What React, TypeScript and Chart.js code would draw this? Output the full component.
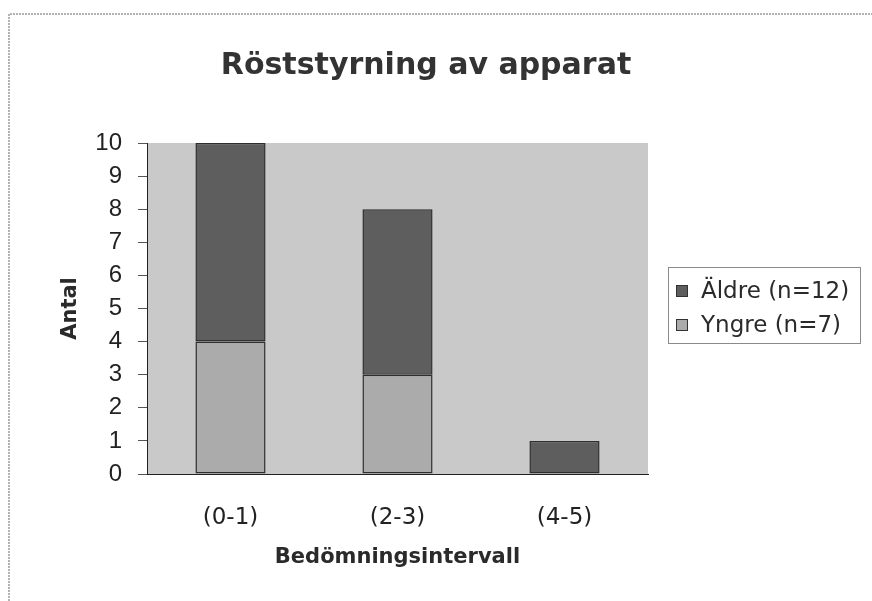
import React, { useEffect, useRef } from "react";
import { Chart, registerables } from "chart.js";

Chart.register(...registerables);

const chartTitle = "Röststyrning av apparat";
const categories = ["(0-1)", "(2-3)", "(4-5)"];
const seriesNames = ["Äldre (n=12)", "Yngre (n=7)"];
const yngreValues = [4, 3, 0];
const aldreValues = [6, 5, 1];
const yTicks = [0, 1, 2, 3, 4, 5, 6, 7, 8, 9, 10];
const xAxisTitle = "Bedömningsintervall";
const yAxisTitle = "Antal";

const DARK = "#5e5e5e";
const LIGHT = "#ababab";
const PLOT_BG = "#c9c9c9";
const FONT = "'Liberation Sans', 'DejaVu Sans', sans-serif";
const DV = "'DejaVu Sans', sans-serif";

const decorPlugin = {
  id: "decor",
  beforeDraw(chart: any) {
    const { ctx, chartArea } = chart;
    ctx.save();
    // outer frame (top and left dotted edges)
    ctx.strokeStyle = "#9a9a9a";
    ctx.lineWidth = 1.5;
    ctx.setLineDash([2, 1]);
    ctx.beginPath();
    ctx.moveTo(9, 601);
    ctx.lineTo(9, 14);
    ctx.lineTo(872, 14);
    ctx.stroke();
    ctx.setLineDash([]);
    // plot background
    ctx.fillStyle = PLOT_BG;
    ctx.fillRect(chartArea.left, chartArea.top, chartArea.right - chartArea.left, chartArea.bottom - chartArea.top);
    // chart title
    ctx.fillStyle = "#333333";
    ctx.font = `bold 30px ${DV}`;
    ctx.textAlign = "center";
    ctx.textBaseline = "middle";
    ctx.fillText(chartTitle, 426, 66);
    ctx.restore();
  },
  afterDraw(chart: any) {
    const { ctx } = chart;
    ctx.save();
    const bx = 668, by = 267, bw = 192, bh = 76;
    ctx.fillStyle = "#ffffff";
    ctx.fillRect(bx, by, bw, bh);
    ctx.strokeStyle = "#8a8a8a";
    ctx.lineWidth = 1;
    ctx.strokeRect(bx + 0.5, by + 0.5, bw, bh);
    const colors = [DARK, LIGHT];
    const rowsY = [291, 325];
    ctx.font = `23px ${DV}`;
    ctx.textBaseline = "middle";
    ctx.textAlign = "left";
    seriesNames.forEach((name, i) => {
      const y = rowsY[i];
      ctx.fillStyle = colors[i];
      ctx.fillRect(676, y - 6, 12, 12);
      ctx.strokeStyle = "#333";
      ctx.lineWidth = 1;
      ctx.strokeRect(676.5, y - 5.5, 11, 11);
      ctx.fillStyle = "#2a2a2a";
      ctx.fillText(name, 701, y + 1);
    });
    ctx.restore();
  },
};

export default function App() {
  const canvasRef = useRef<HTMLCanvasElement | null>(null);

  useEffect(() => {
    if (!canvasRef.current) return;
    const chart = new Chart(canvasRef.current, {
      type: "bar",
      data: {
        labels: categories,
        datasets: [
          {
            label: seriesNames[1],
            data: yngreValues,
            backgroundColor: LIGHT,
            borderColor: "#2e2e2e",
            borderWidth: 1.5,
            borderSkipped: false,
            stack: "s",
          },
          {
            label: seriesNames[0],
            data: aldreValues,
            backgroundColor: DARK,
            borderColor: "#2e2e2e",
            borderWidth: 1.5,
            borderSkipped: false,
            stack: "s",
          },
        ],
      },
      options: {
        responsive: false,
        animation: false,
        layout: { padding: { left: 0, right: 224, top: 143, bottom: 0 } },
        datasets: { bar: { barPercentage: 0.42, categoryPercentage: 1 } },
        plugins: {
          legend: { display: false },
          tooltip: { enabled: false },
          title: { display: false },
        },
        scales: {
          x: {
            stacked: true,
            grid: { display: false },
            border: { display: true, color: "#222", width: 1 },
            ticks: { color: "#222", font: { family: DV, size: 23 }, padding: 22 },
            title: {
              display: true,
              text: xAxisTitle,
              color: "#2a2a2a",
              font: { family: DV, size: 21, weight: "bold", lineHeight: 1.2 },
              padding: { top: 0, bottom: 31 },
            },
            afterFit: (scale: any) => {
              scale.height = 127;
            },
          },
          y: {
            stacked: true,
            min: 0,
            max: 10,
            afterBuildTicks: (scale: any) => {
              scale.ticks = yTicks.map((v) => ({ value: v }));
            },
            grid: { display: true, drawOnChartArea: false, drawTicks: true, tickLength: 9, tickColor: "#555" },
            border: { display: true, color: "#222", width: 1 },
            ticks: { color: "#222", font: { family: FONT, size: 24 }, padding: 16 },
            title: {
              display: true,
              text: yAxisTitle,
              color: "#2a2a2a",
              font: { family: DV, size: 21, weight: "bold", lineHeight: 1.2 },
              padding: { top: 58, bottom: 0 },
            },
            afterFit: (scale: any) => {
              scale.width = 147;
            },
          },
        },
      },
      plugins: [decorPlugin],
    });
    return () => chart.destroy();
  }, []);

  return (
    <div style={{ position: "absolute", left: 0, top: 0, width: 872, height: 601, background: "#fff" }}>
      <canvas ref={canvasRef} width={872} height={601} style={{ display: "block" }} />
    </div>
  );
}
